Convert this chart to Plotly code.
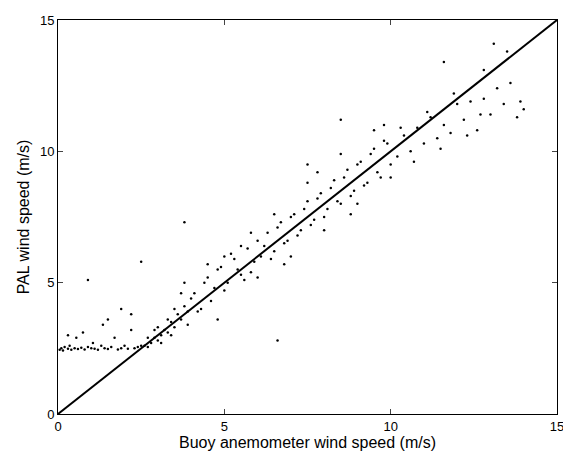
import plotly.graph_objects as go

# flat low-wind region
flat_x = [0.05,0.1,0.15,0.2,0.3,0.35,0.4,0.5,0.55,0.6,0.7,0.75,0.8,0.9,1.0,1.05,1.1,1.2,1.3,1.35,1.4,1.5,1.6,1.7,1.8,1.9,2.0,2.1,2.2,2.3,2.4,2.5,0.9,1.9,1.5,2.2,0.3]
flat_y = [2.45,2.5,2.42,2.55,2.48,2.6,2.45,2.5,2.9,2.47,2.52,3.1,2.46,2.55,2.5,2.7,2.48,2.45,2.6,3.4,2.5,2.47,2.55,2.9,2.46,2.5,2.6,2.48,3.2,2.5,2.55,2.6,5.1,4.0,3.6,3.8,3.0]

# transition region
trans_x = [2.6,2.7,2.8,2.9,3.0,3.1,3.2,3.3,3.4,3.5,3.6,3.7,3.8,3.9,4.0,2.7,2.9,3.1,3.3,3.5,3.7,3.9,3.0,3.4,3.8,3.8,2.5]
trans_y = [2.6,2.55,2.7,2.9,2.8,3.0,3.2,3.1,3.5,3.3,3.8,3.6,4.1,3.9,4.4,2.9,3.2,2.7,3.6,4.0,4.6,3.4,3.3,3.0,5.0,7.3,5.8]

# main band
main_x = [4.1,4.3,4.5,4.7,4.9,5.1,5.3,5.5,5.7,5.9,6.1,6.3,6.5,6.7,6.9,7.1,7.3,7.5,7.7,7.9,8.1,8.3,8.5,8.7,8.9,9.1,9.3,9.5,9.7,9.9,
          4.2,4.4,4.6,4.8,5.0,5.2,5.4,5.6,5.8,6.0,6.2,6.4,6.6,6.8,7.0,7.2,7.4,7.6,7.8,8.0,8.2,8.4,8.6,8.8,9.0,9.2,9.4,9.6,9.8,10.0,
          4.5,5.0,5.5,6.0,6.5,7.0,7.5,8.0,8.5,9.0,9.5,10.0,4.8,5.8,6.8,7.8,8.8,9.8,6.6,7.5,8.5]
main_y = [4.6,4.0,5.2,4.8,5.6,5.0,5.9,5.3,6.3,5.8,6.0,6.9,6.2,7.3,6.6,7.6,7.0,8.1,7.4,8.4,7.8,8.9,8.0,9.3,8.5,9.6,8.8,10.1,9.0,10.3,
          3.9,5.0,4.3,5.5,4.7,6.1,5.5,5.1,5.4,6.6,6.4,5.9,7.1,6.5,7.5,6.8,7.8,7.2,8.2,7.5,8.6,8.1,9.0,8.3,9.5,8.7,9.9,9.2,10.4,9.5,
          5.7,6.0,6.4,5.2,7.6,6.0,8.8,7.0,9.9,8.0,10.8,9.0,3.6,6.9,5.7,9.2,7.6,11.0,2.8,9.5,11.2]

# high-wind region
high_x = [10.2,10.4,10.6,10.8,11.0,11.2,11.4,11.6,11.8,12.0,12.2,12.4,12.6,12.8,13.0,13.2,13.4,13.6,13.8,14.0,
          10.3,10.7,11.1,11.5,11.9,12.3,12.7,13.1,13.5,13.9,11.6,12.8]
high_y = [9.8,10.6,10.0,10.9,10.3,11.3,10.5,11.0,10.7,11.8,11.2,11.9,10.8,12.0,11.4,12.4,11.8,12.6,11.3,11.6,
          10.9,9.6,11.5,10.1,12.2,10.6,11.4,14.1,13.8,11.9,13.4,13.1]

xs = flat_x + trans_x + main_x + high_x
ys = flat_y + trans_y + main_y + high_y

fig = go.Figure()
fig.add_trace(go.Scatter(x=xs, y=ys, mode="markers",
                         marker=dict(color="black", size=2.5), showlegend=False))
fig.add_trace(go.Scatter(x=[0, 15], y=[0, 15], mode="lines",
                         line=dict(color="black", width=2), showlegend=False))

axis = dict(range=[0, 15], tickvals=[0, 5, 10, 15], ticks="inside", ticklen=5,
            showline=True, mirror="ticks", linecolor="black", linewidth=1,
            showgrid=False, zeroline=False, automargin=False,
            tickfont=dict(size=13, color="black"))
fig.update_layout(
    width=571, height=452,
    margin=dict(l=50, r=22, t=12, b=46),
    plot_bgcolor="white", paper_bgcolor="white",
    font=dict(family="Liberation Sans, Arial", size=13, color="black"),
    xaxis=dict(axis, title=dict(text="Buoy anemometer wind speed (m/s)", standoff=4)),
    yaxis=dict(axis, title=dict(text="PAL wind speed (m/s)", standoff=6)),
)
fig.write_html("out.html")
